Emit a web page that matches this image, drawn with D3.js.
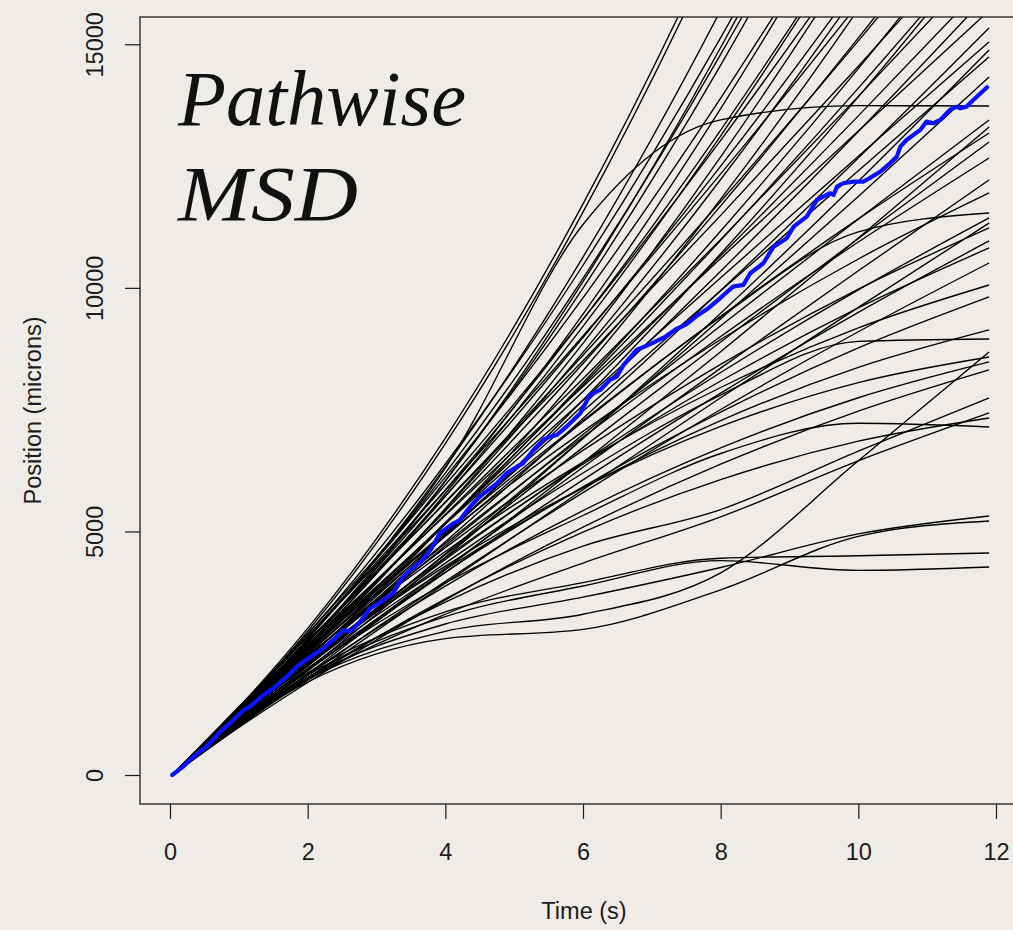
<!DOCTYPE html>
<html>
<head>
<meta charset="utf-8">
<script src="https://cdn.jsdelivr.net/npm/d3@7"></script>
<style>
  html, body { margin: 0; padding: 0; background: #efece7; }
  svg { display: block; }
</style>
</head>
<body>
<svg id="chart" width="1013" height="930"></svg>
<script>
// Sampling times (s) shared by every individual trajectory
const pathTimes = [0.033, 1, 2, 4, 6, 8, 10, 11.9];

// Pathwise MSD (microns) of each tracked trajectory at pathTimes
const pathMsd = [
  [0, 1392, 3009, 6917, 11723, 17427, 24030, 31135],
  [0, 1363, 2950, 6802, 11554, 17206, 23760, 30820],
  [0, 1295, 2781, 6325, 10631, 15699, 21530, 27776],
  [0, 1374, 2896, 6384, 10464, 15136, 20400, 25949],
  [0, 1240, 2658, 6034, 10126, 14934, 20460, 26373],
  [0, 1325, 2800, 6198, 10196, 14794, 19990, 25482],
  [0, 1278, 2711, 6043, 9997, 14573, 19770, 25283],
  [0, 1372, 2848, 6114, 9796, 13894, 18410, 23086],
  [0, 1246, 2625, 5779, 9463, 13677, 18420, 23417],
  [0, 1318, 2732, 5850, 9352, 13238, 17510, 21924],
  [0, 1273, 2650, 5720, 9210, 13120, 17450, 21953],
  [0, 1385, 2839, 5957, 9353, 13027, 16980, 20993],
  [0, 1205, 2518, 5472, 8862, 12688, 16950, 21403],
  [0, 1333, 2731, 5725, 8981, 12499, 16280, 20115],
  [0, 1241, 2564, 5456, 8676, 12224, 16100, 20086],
  [0, 1400, 2841, 5845, 9011, 12339, 15830, 19297],
  [0, 1147, 2389, 5155, 8299, 11821, 15720, 19774],
  [0, 1276, 2605, 5421, 8447, 11683, 15130, 18599],
  [0, 1348, 2731, 5603, 8617, 11773, 15070, 18334],
  [0, 1207, 2468, 5152, 8052, 11168, 14500, 17865],
  [0, 1370, 2758, 5592, 8502, 11488, 14550, 17529],
  [0, 1239, 2516, 5184, 8004, 10976, 14100, 17209],
  [0, 1147, 2349, 4915, 7699, 10701, 13920, 17180],
  [0, 1309, 2637, 5349, 8135, 10995, 13930, 16787],
  [0, 1260, 2541, 5165, 7871, 10659, 13530, 16334],
  [0, 1194, 2416, 4946, 7588, 10342, 13210, 16039],
  [0, 1338, 2673, 5331, 7975, 10605, 13220, 15691],
  [0, 1162, 2347, 4787, 7320, 9946, 12666, 15336],
  [0, 1297, 2588, 5152, 7693, 10209, 12702, 15048],
  [0, 1067, 2167, 4470, 6907, 9480, 12187, 14884],
  [0, 1249, 2496, 4985, 7466, 9939, 12405, 14740],
  [0, 1109, 2235, 4540, 6915, 9361, 11876, 14330],
  [0, 1380, 2900, 6300, 11300, 13450, 13740, 13734],
  [0, 1194, 2376, 4706, 6988, 9224, 11412, 13447],
  [0, 1028, 2073, 4212, 6416, 8687, 11023, 13303],
  [0, 1302, 2569, 4994, 7277, 9418, 11415, 13180],
  [0, 1145, 2281, 4522, 6725, 8888, 11013, 12995],
  [0, 1234, 2438, 4751, 6939, 9002, 10941, 12667],
  [0, 1076, 2142, 4248, 6318, 8352, 10350, 12215],
  [0, 1321, 2584, 4935, 7053, 8940, 10593, 11948],
  [0, 1200, 2480, 4900, 7250, 9400, 11150, 11537],
  [0, 1162, 2286, 4425, 6417, 8262, 9959, 11435],
  [0, 996, 1984, 3936, 5856, 7743, 9599, 11332],
  [0, 1252, 2447, 4668, 6663, 8431, 9974, 11230],
  [0, 1085, 2140, 4160, 6059, 7839, 9498, 10963],
  [0, 1194, 2336, 4462, 6380, 8088, 9588, 10819],
  [0, 1036, 2044, 3976, 5796, 7503, 9099, 10511],
  [0, 1262, 2447, 4589, 6424, 7955, 9179, 10059],
  [0, 1123, 2191, 4163, 5916, 7450, 8766, 9813],
  [0, 1164, 2255, 4219, 5892, 7275, 8367, 9136],
  [0, 1150, 2280, 4350, 6200, 7800, 8900, 8951],
  [0, 1040, 1960, 2950, 3300, 4150, 6450, 8684],
  [0, 1206, 2322, 4289, 5900, 7155, 8055, 8581],
  [0, 1067, 2070, 3879, 5428, 6716, 7744, 8479],
  [0, 975, 1899, 3595, 5088, 6380, 7468, 8315],
  [0, 1060, 2000, 3550, 4700, 5450, 6650, 7740],
  [0, 1040, 1950, 3300, 4350, 5300, 6450, 7432],
  [0, 1014, 1954, 3616, 4987, 6065, 6852, 7329],
  [0, 1131, 2165, 3941, 5327, 6600, 7220, 7144],
  [0, 1080, 2000, 3100, 3650, 4260, 4950, 5317],
  [0, 1050, 1909, 2800, 2990, 3800, 4900, 5214],
  [0, 1100, 2050, 3250, 3880, 4400, 4200, 4270],
  [0, 1120, 2100, 3350, 3950, 4450, 4500, 4557]
];

// Ensemble mean MSD: [time (s), MSD (microns)]
const meanMsd = [
  [0.033, 0], [0.19, 171], [0.34, 376], [0.53, 581], [0.73, 889], [0.87, 1061],
  [1.07, 1334], [1.16, 1402], [1.36, 1642], [1.50, 1780], [1.70, 2018], [1.84, 2223],
  [1.94, 2326], [2.08, 2464], [2.20, 2566], [2.37, 2772], [2.52, 2977], [2.62, 2942],
  [2.76, 3147], [2.91, 3422], [3.05, 3540], [3.24, 3730], [3.39, 4071], [3.49, 4209],
  [3.66, 4400], [3.80, 4650], [3.92, 4962], [4.12, 5167], [4.21, 5235], [4.36, 5508],
  [4.50, 5713], [4.75, 5988], [4.89, 6194], [5.04, 6330], [5.13, 6399], [5.28, 6672],
  [5.42, 6877], [5.52, 6945], [5.62, 6980], [5.76, 7150], [5.96, 7426], [6.10, 7801],
  [6.25, 7904], [6.39, 8109], [6.49, 8177], [6.59, 8417], [6.78, 8725], [7.00, 8860],
  [7.20, 9000], [7.35, 9150], [7.50, 9250], [7.65, 9420], [7.80, 9560], [7.99, 9786],
  [8.18, 10025], [8.33, 10060], [8.43, 10300], [8.62, 10505], [8.77, 10846], [8.96, 11018],
  [9.06, 11257], [9.25, 11462], [9.40, 11805], [9.49, 11873], [9.59, 11942], [9.64, 11907],
  [9.69, 12078], [9.78, 12147], [9.93, 12181], [10.07, 12181], [10.12, 12215], [10.32, 12386],
  [10.46, 12557], [10.56, 12694], [10.61, 12899], [10.70, 13036], [10.90, 13242], [10.99, 13413],
  [11.09, 13379], [11.19, 13447], [11.33, 13652], [11.43, 13720], [11.48, 13686], [11.57, 13720],
  [11.67, 13857], [11.87, 14118]
];

const xTicks = [0, 2, 4, 6, 8, 10, 12];
const yTicks = [0, 5000, 10000, 15000];
const titleLines = ["Pathwise", "MSD"];

const plot = { left: 140, top: 17, right: 1028, bottom: 804 };
const x = d3.scaleLinear().domain([-0.436, 12.465]).range([plot.left, plot.right]);
const y = d3.scaleLinear().domain([-595, 15560]).range([plot.bottom, plot.top]);

const svg = d3.select("#chart");
const sans = "'Liberation Sans', Arial, Helvetica, sans-serif";
const ink = "#1c1c1c";

svg.append("rect").attr("width", 1013).attr("height", 930).attr("fill", "#efece7");

svg.append("defs").append("clipPath").attr("id", "plot-clip")
  .append("rect")
  .attr("x", plot.left).attr("y", plot.top)
  .attr("width", plot.right - plot.left).attr("height", plot.bottom - plot.top);

const lines = svg.append("g").attr("clip-path", "url(#plot-clip)");

const pathLine = d3.line()
  .x((v, i) => x(pathTimes[i]))
  .y(v => y(v))
  .curve(d3.curveMonotoneX);

lines.selectAll("path.traj")
  .data(pathMsd)
  .join("path")
  .attr("class", "traj")
  .attr("d", pathLine)
  .attr("fill", "none")
  .attr("stroke", "#000")
  .attr("stroke-width", 1.35);

const meanLine = d3.line()
  .x(d => x(d[0]))
  .y(d => y(d[1]))
  .curve(d3.curveLinear);

lines.append("path")
  .datum(meanMsd)
  .attr("d", meanLine)
  .attr("fill", "none")
  .attr("stroke", "#0a12ff")
  .attr("stroke-width", 4.2)
  .attr("stroke-linejoin", "round")
  .attr("stroke-linecap", "round");

// Plot frame
svg.append("rect")
  .attr("x", plot.left).attr("y", plot.top)
  .attr("width", plot.right - plot.left).attr("height", plot.bottom - plot.top)
  .attr("fill", "none").attr("stroke", ink).attr("stroke-width", 1.3);

// Bottom axis
const gx = svg.append("g")
  .attr("transform", `translate(0,${plot.bottom})`)
  .call(d3.axisBottom(x).tickValues(xTicks).tickSize(15).tickFormat(d3.format("d")));
gx.select(".domain").remove();
gx.selectAll(".tick line").attr("stroke", ink).attr("stroke-width", 1.2);
gx.selectAll(".tick text")
  .attr("y", 56).attr("dy", 0)
  .attr("fill", ink)
  .style("font-family", sans).style("font-size", "23.5px");

// Left axis, labels parallel to the axis
const gy = svg.append("g")
  .attr("transform", `translate(${plot.left},0)`)
  .call(d3.axisLeft(y).tickValues(yTicks).tickSize(15).tickFormat(d3.format("d")));
gy.select(".domain").remove();
gy.selectAll(".tick line").attr("stroke", ink).attr("stroke-width", 1.2);
gy.selectAll(".tick text")
  .attr("transform", "rotate(-90)")
  .attr("x", 0).attr("y", -37).attr("dy", 0)
  .attr("text-anchor", "middle")
  .attr("fill", ink)
  .style("font-family", sans).style("font-size", "23.5px");

// Axis titles
svg.append("text")
  .attr("x", (plot.left + plot.right) / 2).attr("y", 919)
  .attr("text-anchor", "middle").attr("fill", ink)
  .style("font-family", sans).style("font-size", "23.5px")
  .text("Time (s)");

svg.append("text")
  .attr("transform", `translate(41,${(plot.top + plot.bottom) / 2}) rotate(-90)`)
  .attr("text-anchor", "middle").attr("fill", ink)
  .style("font-family", sans).style("font-size", "23.5px")
  .text("Position (microns)");

// Panel title
const titleWidths = [288, 180];
const titleBase = [125, 220];
svg.append("g").selectAll("text")
  .data(titleLines)
  .join("text")
  .attr("x", 178)
  .attr("y", (d, i) => titleBase[i])
  .attr("textLength", (d, i) => titleWidths[i])
  .attr("lengthAdjust", "spacingAndGlyphs")
  .attr("fill", "#111")
  .style("font-family", "'Liberation Serif', 'Times New Roman', serif")
  .style("font-style", "italic")
  .style("font-size", "78px")
  .text(d => d);
</script>
</body>
</html>
